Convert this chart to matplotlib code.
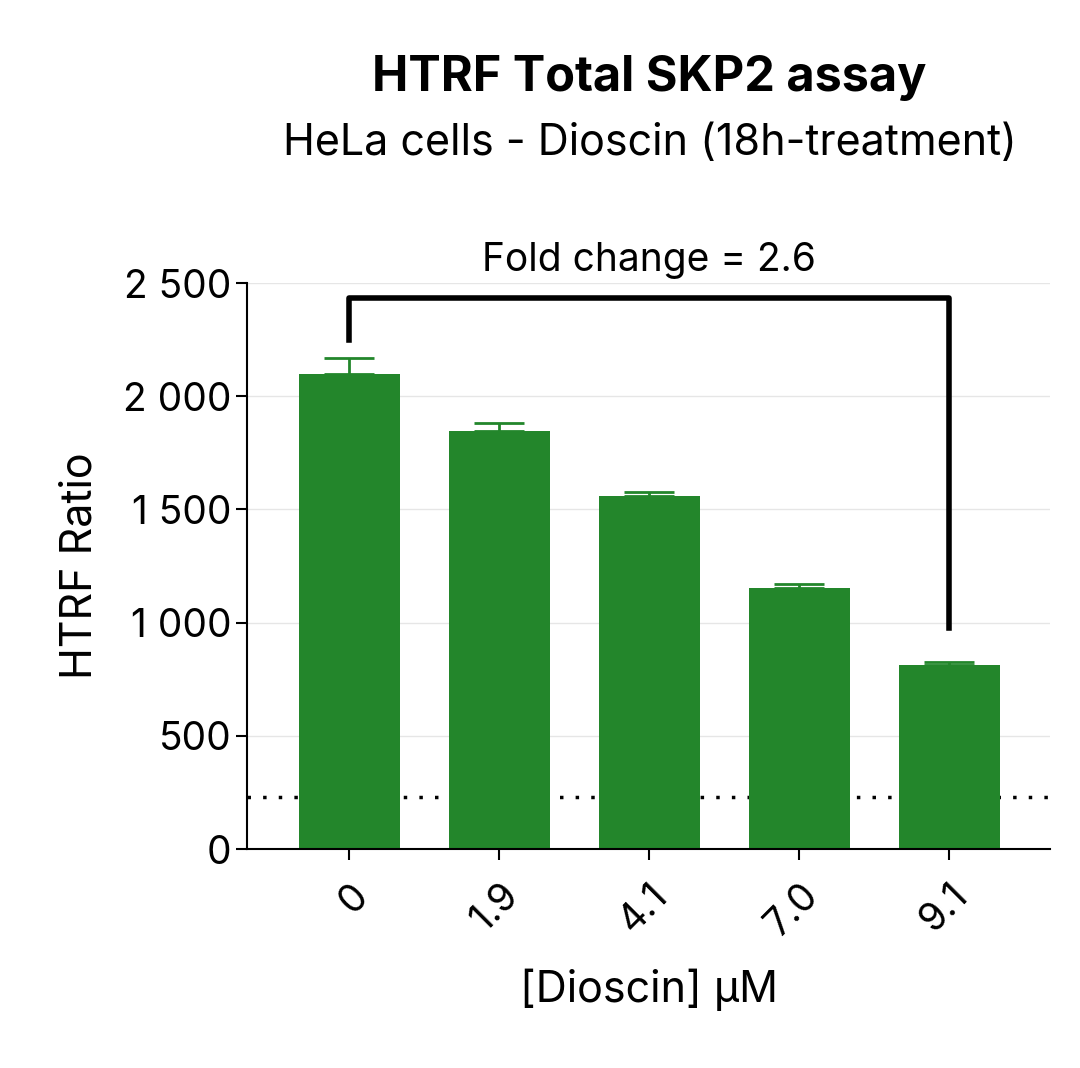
import matplotlib
matplotlib.use("Agg")
import matplotlib.pyplot as plt
from matplotlib.ticker import FuncFormatter

categories = ["0", "1.9", "4.1", "7.0", "9.1"]
values = [2100, 1845, 1560, 1155, 815]
errors = [70, 35, 15, 15, 10]
baseline = 230
fold_label = "Fold change = 2.6"

plt.rcParams['font.family'] = ['Inter', 'DejaVu Sans']
fig = plt.figure(figsize=(10.8, 10.68), dpi=100)
ax = fig.add_axes([0.229, 0.205, 0.743, 0.53])
x = list(range(len(categories)))
green = "#23862b"
ax.bar(x, values, width=0.67, color=green, zorder=2)
ax.errorbar(x, values, yerr=[[0]*5, errors], fmt="none", ecolor=green, capsize=18, elinewidth=2, capthick=2, zorder=3)
ax.axhline(baseline, color="black", linestyle=(0, (1, 3.5)), linewidth=2.5, zorder=1)
ax.set_ylim(0, 2500)
ax.set_xlim(-0.68, 4.67)
ax.set_yticks([0, 500, 1000, 1500, 2000, 2500])
ax.yaxis.set_major_formatter(FuncFormatter(lambda v, p: f"{int(v):,}".replace(",", " ")))
ax.grid(axis="y", color="#e6e6e6", linewidth=1, zorder=0)
ax.set_xticks(x)
ax.set_xticklabels(categories, rotation=45, ha="right", rotation_mode="anchor")
ax.tick_params(labelsize=28, length=8, width=1.5)
ax.tick_params(axis="x", pad=12)
for s in ["top", "right"]:
    ax.spines[s].set_visible(False)
ax.spines["left"].set_linewidth(1.5)
ax.spines["bottom"].set_linewidth(1.5)
ax.set_ylabel("HTRF Ratio", fontsize=31, labelpad=16)
ax.set_xlabel("[Dioscin] µM", fontsize=31, labelpad=18)
ax.plot([0, 0, 4, 4], [2250, 2435, 2435, 975], color="black", linewidth=4, clip_on=False, zorder=4)
ax.text(2, 2600, fold_label, ha="center", va="center", fontsize=28)
fig.text(0.601, 0.927, "HTRF Total SKP2 assay", ha="center", va="center", fontsize=35, fontweight="bold")
fig.text(0.602, 0.866, "HeLa cells - Dioscin (18h-treatment)", ha="center", va="center", fontsize=31)
fig.savefig("out.png", dpi=100)
